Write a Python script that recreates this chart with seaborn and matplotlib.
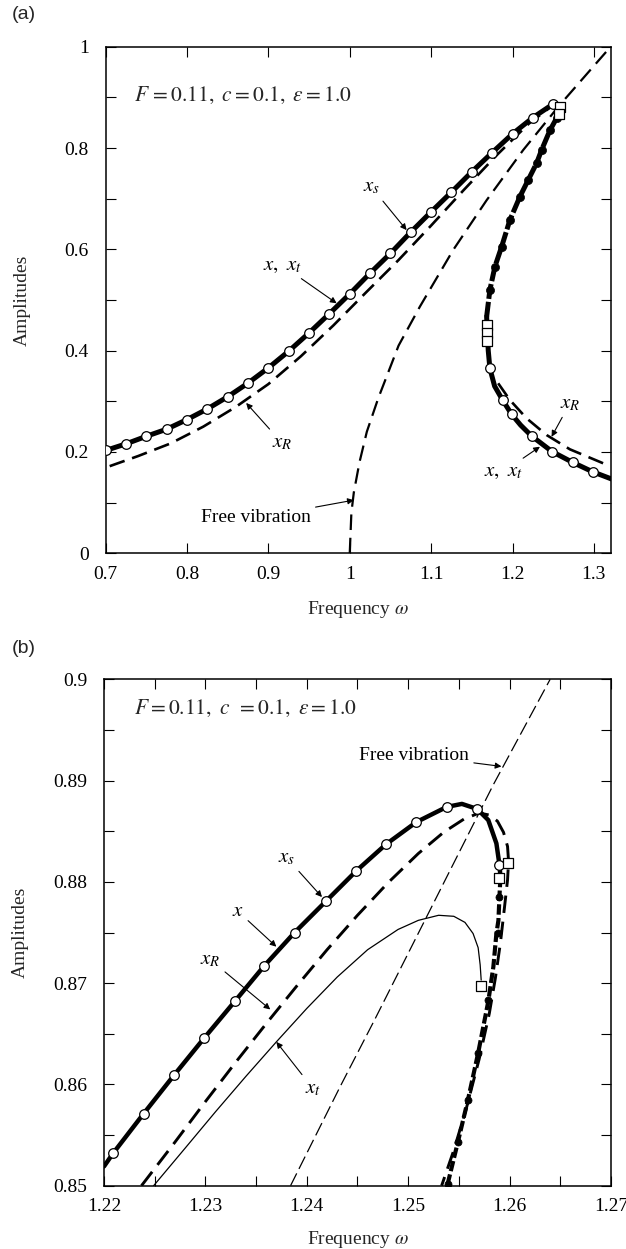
import matplotlib
matplotlib.use("Agg")
import matplotlib.pyplot as plt
import seaborn as sns
from matplotlib.ticker import MultipleLocator, FuncFormatter

# ---------------- data: panel (a) ----------------
a_xs_w = [0.700, 0.725, 0.750, 0.775, 0.800, 0.825, 0.850, 0.875, 0.900, 0.925, 0.950, 0.975,
          1.000, 1.025, 1.050, 1.075, 1.100, 1.125, 1.150, 1.175, 1.200, 1.225, 1.250]
a_xs_a = [0.203, 0.216, 0.231, 0.245, 0.264, 0.285, 0.309, 0.336, 0.366, 0.399, 0.435, 0.473,
          0.512, 0.553, 0.592, 0.634, 0.674, 0.713, 0.753, 0.791, 0.828, 0.860, 0.887]
a_xs_low_w = [1.1722, 1.1878, 1.1989, 1.2235, 1.2488, 1.2738, 1.2984]
a_xs_low_a = [0.365, 0.3026, 0.2744, 0.2315, 0.2006, 0.1796, 0.161]

a_x_up_w = [0.700, 0.725, 0.750, 0.775, 0.800, 0.825, 0.850, 0.875, 0.900, 0.925, 0.950, 0.975,
            1.000, 1.025, 1.050, 1.075, 1.100, 1.125, 1.150, 1.175, 1.200, 1.225, 1.250, 1.2575]
a_x_up_a = [0.203, 0.216, 0.231, 0.245, 0.264, 0.285, 0.309, 0.336, 0.366, 0.399, 0.435, 0.473,
            0.512, 0.553, 0.592, 0.634, 0.674, 0.713, 0.753, 0.791, 0.828, 0.860, 0.887, 0.882]
a_x_low_w = [1.1682, 1.1690, 1.1702, 1.1722, 1.1780, 1.1878, 1.1989, 1.2100, 1.2235, 1.2488,
             1.2738, 1.2984, 1.3217]
a_x_low_a = [0.467, 0.440, 0.400, 0.365, 0.330, 0.3026, 0.2744, 0.253, 0.2315, 0.2006,
             0.1796, 0.161, 0.1467]
a_x_mid_w = [1.1682, 1.1722, 1.1784, 1.1866, 1.1968, 1.2091, 1.2193, 1.2296, 1.2357, 1.2460,
             1.2542, 1.2575, 1.2585]
a_x_mid_a = [0.467, 0.520, 0.566, 0.605, 0.658, 0.704, 0.737, 0.770, 0.796, 0.835,
             0.859, 0.872, 0.882]

a_xR_up_w = [0.705, 0.74, 0.78, 0.82, 0.86, 0.90, 0.94, 0.98, 1.02, 1.06, 1.10, 1.14, 1.18, 1.22, 1.25]
a_xR_up_a = [0.172, 0.192, 0.217, 0.250, 0.289, 0.334, 0.389, 0.450, 0.515, 0.579, 0.647, 0.717,
             0.785, 0.848, 0.885]
a_xR_low_w = [1.1824, 1.1968, 1.2173, 1.2419, 1.2705, 1.3135, 1.3170]
a_xR_low_a = [0.3356, 0.3026, 0.2665, 0.2335, 0.2053, 0.1763, 0.174]

a_free_w = [1.000, 1.002, 1.005, 1.012, 1.021, 1.035, 1.060, 1.0862, 1.1272, 1.1682, 1.2131,
            1.257, 1.3206]
a_free_a = [0.0, 0.08, 0.12, 0.18, 0.24, 0.306, 0.41, 0.487, 0.599, 0.697, 0.796, 0.883, 1.0]

a_sq_w = [1.2586, 1.2566, 1.1682, 1.1682, 1.1682]
a_sq_a = [0.8817, 0.8673, 0.4507, 0.4355, 0.4197]

# ---------------- data: panel (b) ----------------
b_xs_w = [1.2209, 1.2239, 1.2269, 1.2299, 1.2329, 1.2358, 1.2388, 1.2419, 1.2449, 1.2478,
          1.2508, 1.2538, 1.2568, 1.2590]
b_xs_a = [0.8532, 0.8571, 0.8609, 0.8646, 0.8682, 0.8717, 0.8750, 0.8781, 0.8811, 0.8837,
          0.8859, 0.8874, 0.8872, 0.8817]

b_x_w = [1.2200, 1.2209, 1.2239, 1.2269, 1.2299, 1.2329, 1.2358, 1.2388, 1.2419, 1.2449, 1.2478,
         1.2508, 1.2538, 1.2553, 1.2568, 1.2579, 1.2587, 1.2590, 1.2591]
b_x_a = [0.8519, 0.8532, 0.8571, 0.8609, 0.8646, 0.8682, 0.8717, 0.8750, 0.8781, 0.8811, 0.8837,
         0.8859, 0.8874, 0.8877, 0.8872, 0.8861, 0.8838, 0.8817, 0.8805]
b_x_un_w = [1.2591, 1.2590, 1.2589, 1.2587, 1.2584, 1.2579, 1.2569, 1.2559, 1.2549, 1.2539, 1.2537]
b_x_un_a = [0.8805, 0.8785, 0.8762, 0.8749, 0.8716, 0.8682, 0.8631, 0.8585, 0.8543, 0.8502, 0.8500]
b_dots_w = [1.2590, 1.2589, 1.2579, 1.2569, 1.2559, 1.2549, 1.2539]
b_dots_a = [0.8785, 0.8750, 0.8683, 0.8631, 0.8585, 0.8543, 0.8502]

b_xR_w = [1.2237, 1.2270, 1.2300, 1.2330, 1.2360, 1.2390, 1.2420, 1.2450, 1.2480, 1.2510, 1.2535,
          1.2555, 1.2570, 1.2580, 1.2588, 1.2594, 1.2598, 1.2599, 1.2598, 1.2595, 1.2591, 1.2586,
          1.2580, 1.2570, 1.2557, 1.2545, 1.2533]
b_xR_a = [0.8500, 0.8543, 0.8583, 0.8622, 0.8660, 0.8697, 0.8733, 0.8767, 0.8799, 0.8828, 0.8849,
          0.8862, 0.8868, 0.8866, 0.8860, 0.8849, 0.8835, 0.8820, 0.8802, 0.8775, 0.8740, 0.8705,
          0.8670, 0.8625, 0.8575, 0.8535, 0.8500]

b_xt_w = [1.2249, 1.2280, 1.2310, 1.2340, 1.2370, 1.2400, 1.2430, 1.2460, 1.2490, 1.2510, 1.2530,
          1.2545, 1.2556, 1.2564, 1.2569, 1.2571, 1.2572]
b_xt_a = [0.8500, 0.8537, 0.8573, 0.8608, 0.8642, 0.8675, 0.8706, 0.8733, 0.8753, 0.8762, 0.8767,
          0.8766, 0.8760, 0.8749, 0.8735, 0.8718, 0.8703]

b_free_w = [1.2384, 1.2433, 1.2467, 1.2584, 1.2640]
b_free_a = [0.8500, 0.8598, 0.8664, 0.8896, 0.9000]

b_sq_w = [1.2598, 1.2590, 1.2572]
b_sq_a = [0.8819, 0.8804, 0.8697]

x_label = "Frequency $\\omega$"
y_label = "Amplitudes"
param_text = "$F\\,=0.11,\\ c=0.1,\\ \\varepsilon=1.0$"
param_text_b = "$F=0.11,\\ c\\,\\ =0.1,\\ \\varepsilon=1.0$"

# ---------------- style ----------------
sns.set_theme(style="ticks")
plt.rcParams.update({
    "font.family": ["Liberation Serif", "DejaVu Serif"],
    "mathtext.fontset": "stix",
    "axes.linewidth": 1.1,
    "axes.edgecolor": "black",
    "xtick.color": "black", "ytick.color": "black",
    "xtick.direction": "in", "ytick.direction": "in",
    "xtick.top": True, "ytick.right": True,
    "xtick.labelsize": 14, "ytick.labelsize": 14,
})

fig = plt.figure(figsize=(6.26, 12.49), dpi=100)
ax1 = fig.add_axes([0.1687, 0.5570, 0.8073, 0.4056])
ax2 = fig.add_axes([0.1661, 0.0507, 0.8099, 0.4054])

K = "black"


def line(ax, w, a, lw, ls="-", z=2):
    sns.lineplot(x=w, y=a, ax=ax, sort=False, estimator=None, color=K, lw=lw,
                 linestyle=ls, zorder=z, legend=False)


def pts(ax, w, a, marker, s, face, z=5, lw=0.9):
    sns.scatterplot(x=w, y=a, ax=ax, marker=marker, s=s, facecolor=face, edgecolor=K,
                    linewidth=lw, zorder=z, legend=False)


def arrow(ax, text, xytext, xy, fs=15):
    ax.annotate(text, xy=xy, xytext=xytext, ha="center", va="center", fontsize=fs, color=K,
                arrowprops=dict(arrowstyle="-|>", color=K, lw=0.8, mutation_scale=9,
                                shrinkA=1, shrinkB=0))


# ---------------- panel (a) ----------------
line(ax1, a_free_w, a_free_a, 1.6, (0, (7, 3.5)), 1)
line(ax1, a_xR_up_w, a_xR_up_a, 1.9, (0, (6, 3)), 2)
line(ax1, a_xR_low_w, a_xR_low_a, 1.9, (0, (6, 3)), 2)
line(ax1, a_x_mid_w, a_x_mid_a, 3.6, (0, (3, 0.6)), 3)
pts(ax1, a_x_mid_w[1:-2], a_x_mid_a[1:-2], "o", 34, K, 3, 0.5)
line(ax1, a_x_up_w, a_x_up_a, 3.6, "-", 3)
line(ax1, a_x_low_w, a_x_low_a, 3.6, "-", 3)
pts(ax1, a_xs_w, a_xs_a, "o", 48, "white", 5)
pts(ax1, a_xs_low_w, a_xs_low_a, "o", 48, "white", 5)
pts(ax1, a_sq_w, a_sq_a, "s", 44, "white", 6)

ax1.set_xlim(0.7, 1.321)
ax1.set_ylim(0, 1)
ax1.xaxis.set_major_locator(MultipleLocator(0.1))
ax1.yaxis.set_major_locator(MultipleLocator(0.2))
ax1.yaxis.set_minor_locator(MultipleLocator(0.1))
ax1.xaxis.set_major_formatter(FuncFormatter(lambda v, p: f"{round(v, 3):g}"))
ax1.yaxis.set_major_formatter(FuncFormatter(lambda v, p: f"{round(v, 3):g}"))

ax1.text(0.7349, 0.9047, param_text, fontsize=15.5, ha="left", va="center")
arrow(ax1, "$x_s$", (1.0269, 0.7225), (1.0699, 0.638))
arrow(ax1, "$x,\\ x_t$", (0.9167, 0.569), (0.9839, 0.4935))
arrow(ax1, "$x_R$", (0.9167, 0.218), (0.8727, 0.2968))
arrow(ax1, "Free vibration", (0.8848, 0.0697), (1.005, 0.105), fs=14)
arrow(ax1, "$x_R$", (1.2705, 0.296), (1.248, 0.230))
arrow(ax1, "$x,\\ x_t$", (1.1886, 0.161), (1.2337, 0.2104))

# ---------------- panel (b) ----------------
line(ax2, b_free_w, b_free_a, 0.9, (0, (11, 4)), 1)
line(ax2, b_xt_w, b_xt_a, 0.9, "-", 2)
line(ax2, b_xR_w, b_xR_a, 2.1, (0, (6, 3)), 2)
line(ax2, b_x_un_w, b_x_un_a, 3.0, (0, (2.5, 0.8)), 3)
pts(ax2, b_dots_w, b_dots_a, "o", 26, K, 3, 0.5)
line(ax2, b_x_w, b_x_a, 3.2, "-", 3)
pts(ax2, b_xs_w, b_xs_a, "o", 48, "white", 5)
pts(ax2, b_sq_w, b_sq_a, "s", 44, "white", 6)

ax2.set_xlim(1.22, 1.27)
ax2.set_ylim(0.85, 0.9)
ax2.xaxis.set_major_locator(MultipleLocator(0.01))
ax2.xaxis.set_minor_locator(MultipleLocator(0.005))
ax2.yaxis.set_major_locator(MultipleLocator(0.01))
ax2.yaxis.set_minor_locator(MultipleLocator(0.005))
ax2.xaxis.set_major_formatter(FuncFormatter(lambda v, p: f"{round(v, 4):g}"))
ax2.yaxis.set_major_formatter(FuncFormatter(lambda v, p: f"{round(v, 4):g}"))

ax2.text(1.22296, 0.8971, param_text_b, fontsize=15.5, ha="left", va="center")
arrow(ax2, "$x_s$", (1.2380, 0.8824), (1.2415, 0.8785))
arrow(ax2, "$x$", (1.2332, 0.8771), (1.2370, 0.8736))
arrow(ax2, "$x_R$", (1.2305, 0.8723), (1.2364, 0.8674))
arrow(ax2, "$x_t$", (1.2406, 0.8596), (1.2370, 0.8642))
arrow(ax2, "Free vibration", (1.2506, 0.8925), (1.2592, 0.8914), fs=14)

for ax, ly in ((ax1, -0.09), (ax2, -0.086)):
    ax.tick_params(which="both", direction="in", top=True, right=True, length=7.5, width=0.8)
    ax.tick_params(axis="x", which="both", pad=9)
    ax.tick_params(axis="y", which="both", pad=12)
    ax.set_xlabel(x_label, fontsize=14)
    ax.set_ylabel(y_label, fontsize=14)
    ax.xaxis.set_label_coords(0.5, ly)
    ax.yaxis.set_label_coords(-0.148, 0.5)
    for s in ax.spines.values():
        s.set_visible(True)
        s.set_color(K)
        s.set_linewidth(1.1)

fig.text(0.038, 0.988, "(a)", fontsize=14, family="Liberation Sans", ha="center", va="center")
fig.text(0.038, 0.481, "(b)", fontsize=14, family="Liberation Sans", ha="center", va="center")

fig.savefig("out.png", dpi=100, facecolor="white")
